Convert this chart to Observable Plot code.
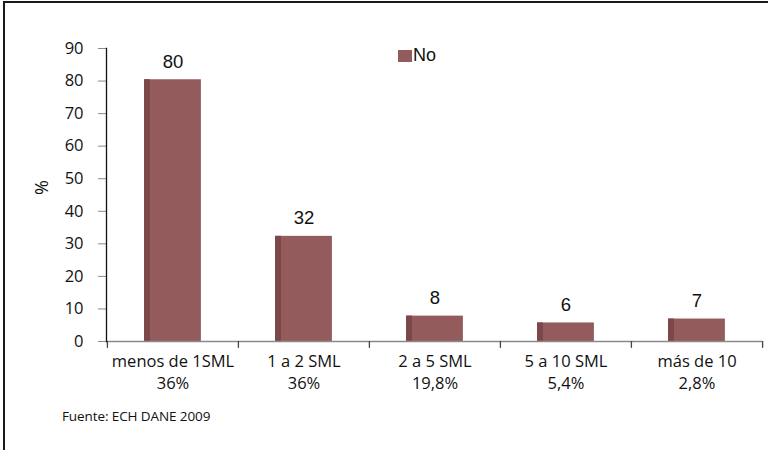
<!DOCTYPE html>
<html>
<head>
<meta charset="utf-8">
<script src="https://cdn.jsdelivr.net/npm/d3@7"></script>
<script src="https://cdn.jsdelivr.net/npm/@observablehq/plot@0.6"></script>
<style>
  html, body { margin: 0; padding: 0; background: #fff; }
  #wrap { position: relative; width: 768px; height: 450px; overflow: hidden; }
  #border { position: absolute; left: 3px; top: 1px; right: -10px; bottom: -10px;
            border-left: 2px solid #1a1a1a; border-top: 2px solid #1a1a1a; pointer-events: none; }
  #legend { position: absolute; left: 398px; top: 45px; font-family: "Liberation Sans", Arial, sans-serif;
            font-size: 18px; display: flex; align-items: center; color: #111; }
  #legend .sw { width: 14px; height: 12px; background: #935B5C; margin-right: 1px; }
  #footer { position: absolute; left: 62px; top: 407px; font-family: "Open Sans", sans-serif; font-size: 13.5px; color: #111; letter-spacing: -0.1px; }
  #chart { position: absolute; left: 0; top: 0; }
</style>
</head>
<body>
<div id="wrap">
  <div id="chart"></div>
  <div id="legend"><span class="sw"></span><span>No</span></div>
  <div id="footer">Fuente: ECH DANE 2009</div>
  <div id="border"></div>
</div>
<script>
const categories = ["menos de 1SML", "1 a 2 SML", "2 a 5 SML", "5 a 10 SML", "más de 10"];
const shares = ["36%", "36%", "19,8%", "5,4%", "2,8%"];
const values = [80.4, 32.3, 7.8, 5.7, 6.9];
const yTicks = [0, 10, 20, 30, 40, 50, 60, 70, 80, 90];

const data = categories.map((c, i) => ({cat: c, share: shares[i], value: values[i]}));

const W = 768, H = 450, mL = 106, mR = 6, mT = 48, mB = 109;
const bw = (W - mL - mR) / categories.length;
const barW = 57, shadeW = 6;
const inset = (bw - barW) / 2;
const xfs = 16.5;

const chart = Plot.plot({
  width: W, height: H,
  marginLeft: mL, marginRight: mR, marginTop: mT, marginBottom: mB,
  x: {domain: categories, padding: 0, axis: null},
  y: {domain: [0, 90], axis: null},
  style: {fontFamily: "Open Sans, sans-serif", background: "transparent", overflow: "visible"},
  marks: [
    Plot.barY(data, {x: "cat", y: "value", fill: "#935B5C", insetLeft: inset, insetRight: inset}),
    Plot.barY(data, {x: "cat", y: "value", fill: "#7B4749", insetLeft: inset, insetRight: bw - inset - shadeW}),
    Plot.ruleY([0], {stroke: "#8a8a8a", strokeWidth: 1.5}),
    Plot.axisY({ticks: yTicks, tickSize: 8, stroke: "#8a8a8a", fill: "#111", tickPadding: 15,
                fontSize: 16.5, label: null, fontFamily: "Open Sans, sans-serif"}),
    Plot.frame({anchor: "left", stroke: "#111", strokeWidth: 1.3}),
    Plot.ruleX(data, {x: "cat", y1: 0, y2: -2.1, dx: -bw / 2, stroke: "#444", strokeWidth: 1.3}),
    Plot.ruleX(data.slice(-1), {x: "cat", y1: 0, y2: -2.1, dx: bw / 2, stroke: "#444", strokeWidth: 1.3}),
    Plot.text(data, {x: "cat", y: 0, text: "cat", lineAnchor: "top", dy: 13.5,
                     fontSize: xfs, fill: "#111", style: "letter-spacing:0.4px"}),
    Plot.text(data, {x: "cat", y: 0, text: "share", lineAnchor: "top", dy: 35.5,
                     fontSize: xfs, fill: "#111"}),
    Plot.text(data, {x: "cat", y: "value", text: d => String(Math.round(d.value)), lineAnchor: "bottom",
                     dy: -12, fontSize: 18.5, fill: "#111", fontFamily: "Liberation Sans, Arial, sans-serif"}),
    Plot.text(["%"], {frameAnchor: "left", dx: -64, rotate: -90, fontSize: 18, fill: "#111"})
  ]
});
document.getElementById("chart").appendChild(chart);
</script>
</body>
</html>
